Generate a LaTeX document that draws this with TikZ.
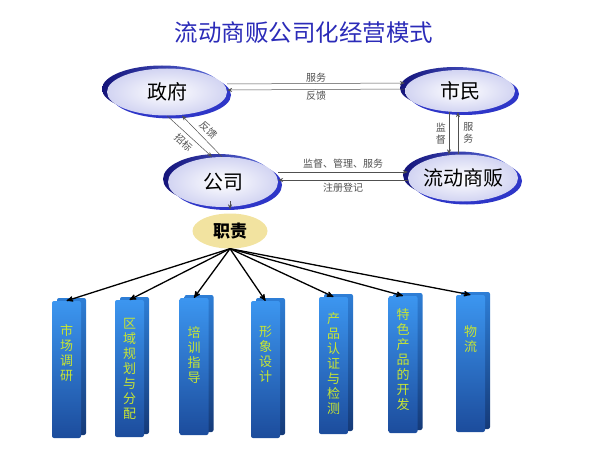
\documentclass[tikz,border=0pt]{standalone}
\usepackage{fontspec}
\setmainfont{Noto Sans CJK SC}
\usepackage{tikz}
\usetikzlibrary{shapes,arrows,arrows.meta,positioning}
\usetikzlibrary{shadings,shadows}
\usepackage{xcolor}
\definecolor{titleBlue}{HTML}{2B2BB8}
\definecolor{ellDark}{HTML}{14147A}
\definecolor{ellLight}{HTML}{5A6ADC}
\definecolor{ellBlue}{HTML}{2E36C8}
\definecolor{ellEdge}{HTML}{D2D4F2}
\definecolor{dutyFill}{HTML}{F2E3A0}
\definecolor{pillTop}{HTML}{3C96F0}
\definecolor{pillBot}{HTML}{1C4C9C}
\definecolor{pillSideTop}{HTML}{2E7ED6}
\definecolor{pillSideBot}{HTML}{153A78}
\definecolor{pillText}{HTML}{C8E632}
\definecolor{flowGray}{HTML}{505050}
\tikzset{
  title/.style = {text=titleBlue, font=\fontsize{23.5}{28}\selectfont},
  roleNode/.style = {ellipse, inner xsep=-2pt, inner ysep=0pt, inner color=white, outer color=ellEdge,
    font=\fontsize{20}{24}\selectfont,
    general shadow={shadow xshift=-5pt, shadow yshift=3pt, left color=ellDark, right color=ellLight},
    general shadow={shadow xshift=4pt, shadow yshift=-3pt, fill=ellBlue}},% ellipse avec croissant bleu
  dutyNode/.style = {ellipse, fill=dutyFill, inner sep=0pt, minimum width=75pt, minimum height=35pt,
    font=\fontsize{17}{20}\selectfont\bfseries},
  pillar/.style = {rectangle, rounded corners=2pt, inner sep=0pt, minimum width=29pt, minimum height=137pt,
    top color=pillTop, bottom color=pillBot,
    general shadow={shadow xshift=5pt, shadow yshift=3pt, top color=pillSideTop, bottom color=pillSideBot}},% colonne 3D
  pillarText/.style = {align=center, inner sep=0pt, text=pillText, font=\fontsize{13}{15}\selectfont},
  lbl/.style = {text=flowGray, font=\fontsize{10}{12}\selectfont, inner sep=1pt},
  flow/.style = {-{Stealth[length=5pt,width=4pt]}, draw=flowGray, line width=0.5pt},
  dutyArrow/.style = {->, >=stealth', black, line width=1.3pt},
}
\begin{document}
\begin{tikzpicture}[x=1pt, y=-1pt]
\useasboundingbox (0,0) rectangle (600,452);
\node [title] (ttl) at (304,33) {流动商贩公司化经营模式};
% acteurs
\node [roleNode, minimum width=120pt, minimum height=47pt] (zf) at (167,92) {政府};
\node [roleNode, minimum width=110pt, minimum height=42pt] (sm) at (460,91) {市民};
\node [roleNode, minimum width=110pt, minimum height=50pt] (gs) at (223,182) {公司};
\node [roleNode, minimum width=110pt, minimum height=47pt] (ls) at (463,178) {流动商贩};
\node [dutyNode] (zz) at (230,231) {职责};
% relations
\draw [flow] ([yshift=8pt]zf.east) -- node[above, lbl]{服务} ([yshift=8pt]sm.west);
\draw [flow] ([yshift=2pt]sm.west) -- node[below, lbl]{反馈} ([yshift=2pt]zf.east);
\draw [flow] ([xshift=-11pt]sm.south) -- node[left=2pt, lbl, align=center]{监\\督} ([xshift=-11pt]sm.south |- ls.north);
\draw [flow] ([xshift=-2pt]sm.south |- ls.north) -- node[right=4pt, lbl, align=center]{服\\务} ([xshift=-2pt]sm.south);
\draw [flow] ([yshift=10pt]gs.east) -- node[above=2pt, lbl]{监督、管理、服务} ([yshift=10pt]gs.east -| ls.west);
\draw [flow] ([yshift=2pt]gs.east -| ls.west) -- node[below=2pt, lbl]{注册登记} ([yshift=2pt]gs.east);
\draw [flow] (zf.south) -- node[sloped, below=3pt, lbl]{招标} ([xshift=-11pt]gs.north);
\draw [flow] ([xshift=-1pt]gs.north) -- node[sloped, above=3pt, lbl]{反馈} ([xshift=15pt]zf.south);
\draw [flow] ([yshift=6pt]gs.south -| zz.north) -- ([yshift=4pt]zz.north);
% colonnes
\node [pillar] (p1) at (66.5,369.5) {};
\node [pillarText, below=23.5pt of p1.north] {市\\场\\调\\研};
\node [pillar] (p2) at (129.5,368.5) {};
\node [pillarText, below=18.5pt of p2.north] {区\\域\\规\\划\\与\\分\\配};
\node [pillar] (p3) at (194,366.5) {};
\node [pillarText, below=28.5pt of p3.north] {培\\训\\指\\导};
\node [pillar] (p4) at (265.5,369.5) {};
\node [pillarText, below=24.5pt of p4.north] {形\\象\\设\\计};
\node [pillar] (p5) at (333.5,365.5) {};
\node [pillarText, below=15.5pt of p5.north] {产\\品\\认\\证\\与\\检\\测};
\node [pillar] (p6) at (403,364.5) {};
\node [pillarText, below=12.5pt of p6.north] {特\\色\\产\\品\\的\\开\\发};
\node [pillar] (p7) at (470.5,363.5) {};
\node [pillarText, below=30.5pt of p7.north] {物\\流};
\draw [dutyArrow] (zz.south) -- (p1.north);
\draw [dutyArrow] (zz.south) -- (p2.north);
\draw [dutyArrow] (zz.south) -- (p3.north);
\draw [dutyArrow] (zz.south) -- (p4.north);
\draw [dutyArrow] (zz.south) -- (p5.north);
\draw [dutyArrow] (zz.south) -- (p6.north);
\draw [dutyArrow] (zz.south) -- (p7.north);
\end{tikzpicture}
\end{document}
